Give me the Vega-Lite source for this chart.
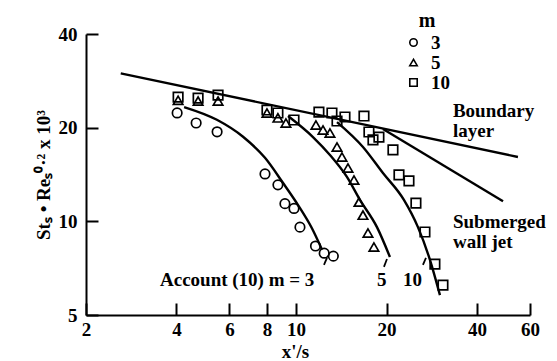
{
  "$schema": "https://vega.github.io/schema/vega-lite/v6.json",
  "width": 444,
  "height": 281,
  "autosize": {"type": "none"},
  "padding": {"left": 86, "top": 34, "right": 27, "bottom": 46},
  "background": "white",
  "config": {
    "view": {"stroke": null},
    "font": "Liberation Serif",
    "axis": {
      "grid": false,
      "domainColor": "black",
      "domainWidth": 2,
      "tickColor": "black",
      "tickWidth": 2,
      "tickSize": -12,
      "labelColor": "black",
      "labelFont": "Liberation Serif",
      "labelFontSize": 19,
      "labelFontWeight": "bold",
      "titleColor": "black",
      "titleFont": "Liberation Serif",
      "titleFontSize": 19,
      "titleFontWeight": "bold",
      "labelOverlap": false,
      "labelFlush": false
    }
  },
  "datasets": {
    "points": [
      {"m": "3", "x": 4.02, "y": 22.3},
      {"m": "3", "x": 4.65, "y": 20.7},
      {"m": "3", "x": 5.46, "y": 19.4},
      {"m": "3", "x": 7.88, "y": 14.2},
      {"m": "3", "x": 8.7, "y": 13.1},
      {"m": "3", "x": 9.18, "y": 11.4},
      {"m": "3", "x": 9.84, "y": 11.0},
      {"m": "3", "x": 10.3, "y": 9.58},
      {"m": "3", "x": 11.6, "y": 8.33},
      {"m": "3", "x": 12.4, "y": 7.9},
      {"m": "3", "x": 13.3, "y": 7.73},
      {"m": "5", "x": 4.05, "y": 24.5},
      {"m": "5", "x": 4.72, "y": 24.35},
      {"m": "5", "x": 5.5, "y": 24.35},
      {"m": "5", "x": 8.0, "y": 22.3},
      {"m": "5", "x": 8.7, "y": 21.5},
      {"m": "5", "x": 9.25, "y": 20.7},
      {"m": "5", "x": 11.64, "y": 20.4},
      {"m": "5", "x": 12.29, "y": 19.66},
      {"m": "5", "x": 12.96, "y": 19.22},
      {"m": "5", "x": 13.68, "y": 17.34},
      {"m": "5", "x": 14.21, "y": 16.1},
      {"m": "5", "x": 14.88, "y": 14.84},
      {"m": "5", "x": 15.58, "y": 13.58},
      {"m": "5", "x": 16.19, "y": 11.53},
      {"m": "5", "x": 16.69, "y": 10.47},
      {"m": "5", "x": 17.34, "y": 9.17},
      {"m": "5", "x": 18.15, "y": 8.27},
      {"m": "10", "x": 4.05, "y": 25.08},
      {"m": "10", "x": 4.72, "y": 24.9},
      {"m": "10", "x": 5.5, "y": 25.45},
      {"m": "10", "x": 8.0, "y": 22.79},
      {"m": "10", "x": 8.7, "y": 22.29},
      {"m": "10", "x": 9.84, "y": 21.17},
      {"m": "10", "x": 11.91, "y": 22.45},
      {"m": "10", "x": 13.16, "y": 22.29},
      {"m": "10", "x": 13.68, "y": 21.01},
      {"m": "10", "x": 14.54, "y": 21.64},
      {"m": "10", "x": 16.82, "y": 21.8},
      {"m": "10", "x": 17.47, "y": 19.37},
      {"m": "10", "x": 18.02, "y": 18.26},
      {"m": "10", "x": 18.86, "y": 18.66},
      {"m": "10", "x": 21.0, "y": 16.96},
      {"m": "10", "x": 21.99, "y": 14.1},
      {"m": "10", "x": 23.74, "y": 13.49},
      {"m": "10", "x": 25.04, "y": 11.45},
      {"m": "10", "x": 26.83, "y": 9.24},
      {"m": "10", "x": 28.96, "y": 7.29},
      {"m": "10", "x": 30.8, "y": 6.24}
    ],
    "curves": [
      {"curve": "boundary", "i": 0, "x": 2.61, "y": 29.9},
      {"curve": "boundary", "i": 1, "x": 54.7, "y": 16.1},
      {"curve": "walljet", "i": 0, "x": 19.45, "y": 19.8},
      {"curve": "walljet", "i": 1, "x": 48.8, "y": 11.6},
      {"curve": "m3", "i": 0, "x": 4.24, "y": 23.3},
      {"curve": "m3", "i": 1, "x": 5.45, "y": 21.2},
      {"curve": "m3", "i": 2, "x": 6.66, "y": 18.7},
      {"curve": "m3", "i": 3, "x": 7.88, "y": 16.0},
      {"curve": "m3", "i": 4, "x": 9.04, "y": 13.3},
      {"curve": "m3", "i": 5, "x": 10.14, "y": 11.3},
      {"curve": "m3", "i": 6, "x": 11.29, "y": 9.5},
      {"curve": "m3", "i": 7, "x": 12.2, "y": 8.1},
      {"curve": "m5", "i": 0, "x": 9.4, "y": 21.8},
      {"curve": "m5", "i": 1, "x": 11.38, "y": 18.66},
      {"curve": "m5", "i": 2, "x": 12.96, "y": 16.34},
      {"curve": "m5", "i": 3, "x": 14.76, "y": 13.89},
      {"curve": "m5", "i": 4, "x": 16.31, "y": 11.72},
      {"curve": "m5", "i": 5, "x": 18.58, "y": 9.58},
      {"curve": "m5", "i": 6, "x": 20.52, "y": 7.68},
      {"curve": "m10", "i": 0, "x": 13.68, "y": 20.85},
      {"curve": "m10", "i": 1, "x": 16.69, "y": 17.34},
      {"curve": "m10", "i": 2, "x": 19.45, "y": 14.3},
      {"curve": "m10", "i": 3, "x": 22.84, "y": 11.72},
      {"curve": "m10", "i": 4, "x": 25.43, "y": 9.58},
      {"curve": "m10", "i": 5, "x": 27.88, "y": 7.52},
      {"curve": "m10", "i": 6, "x": 30.1, "y": 5.79}
    ],
    "leaders": [
      {"x": 12.67, "y": 7.63, "x2": 12.38, "y2": 7.24},
      {"x": 20.06, "y": 7.57, "x2": 19.6, "y2": 7.14},
      {"x": 27.04, "y": 7.63, "x2": 26.42, "y2": 7.24}
    ],
    "labels": [
      {"text": "Account (10) m = 3", "x": 3.525, "y": 6.2},
      {"text": "5", "x": 18.58, "y": 6.2},
      {"text": "10", "x": 22.67, "y": 6.2},
      {"text": "Boundary", "x": 33.25, "y": 21.64},
      {"text": "layer", "x": 33.25, "y": 18.66},
      {"text": "Submerged", "x": 33.25, "y": 9.53},
      {"text": "wall jet", "x": 33.25, "y": 8.21}
    ]
  },
  "encoding": {
    "x": {
      "field": "x",
      "type": "quantitative",
      "scale": {"type": "log", "domain": [2, 60], "nice": false},
      "axis": {
        "values": [2, 4, 6, 8, 10, 20, 40, 60],
        "format": "d",
        "title": "x'/s",
        "labelPadding": 17,
        "titlePadding": 3,
        "titleX": 209
      }
    },
    "y": {
      "field": "y",
      "type": "quantitative",
      "scale": {"type": "log", "domain": [5, 40], "nice": false},
      "axis": {
        "values": [5, 10, 20, 40],
        "format": "d",
        "title": "Stₛ • Reₛ⁰·² x 10³",
        "labelPadding": 21,
        "titlePadding": 5
      }
    }
  },
  "layer": [
    {
      "data": {"name": "curves"},
      "mark": {"type": "line", "color": "black", "strokeWidth": 2.4, "interpolate": "monotone"},
      "encoding": {
        "detail": {"field": "curve", "type": "nominal"},
        "order": {"field": "i", "type": "quantitative"}
      }
    },
    {
      "data": {"name": "leaders"},
      "mark": {"type": "rule", "color": "black", "strokeWidth": 1.8},
      "encoding": {
        "x2": {"field": "x2"},
        "y2": {"field": "y2"}
      }
    },
    {
      "data": {"name": "points"},
      "mark": {"type": "point", "filled": false, "color": "black", "strokeWidth": 1.7, "size": 90, "opacity": 1},
      "encoding": {
        "shape": {
          "field": "m",
          "type": "nominal",
          "scale": {"domain": ["3", "5", "10"], "range": ["circle", "triangle-up", "square"]},
          "legend": {
            "orient": "none",
            "legendX": 318,
            "legendY": -23,
            "title": "m",
            "titleFont": "Liberation Serif",
            "titleFontSize": 20,
            "titleFontWeight": "bold",
            "titleColor": "black",
            "titleAnchor": "middle",
            "titlePadding": 2,
            "labelFont": "Liberation Serif",
            "labelFontSize": 19,
            "labelFontWeight": "bold",
            "labelColor": "black",
            "labelOffset": 8,
            "symbolSize": 55,
            "symbolStrokeWidth": 1.6,
            "symbolStrokeColor": "black",
            "symbolFillColor": "white",
            "rowPadding": 0,
            "padding": 0
          }
        }
      }
    },
    {
      "data": {"name": "labels"},
      "mark": {"type": "text", "align": "left", "baseline": "alphabetic", "font": "Liberation Serif", "fontSize": 19, "fontWeight": "bold", "color": "black"},
      "encoding": {
        "text": {"field": "text", "type": "nominal"}
      }
    }
  ]
}
